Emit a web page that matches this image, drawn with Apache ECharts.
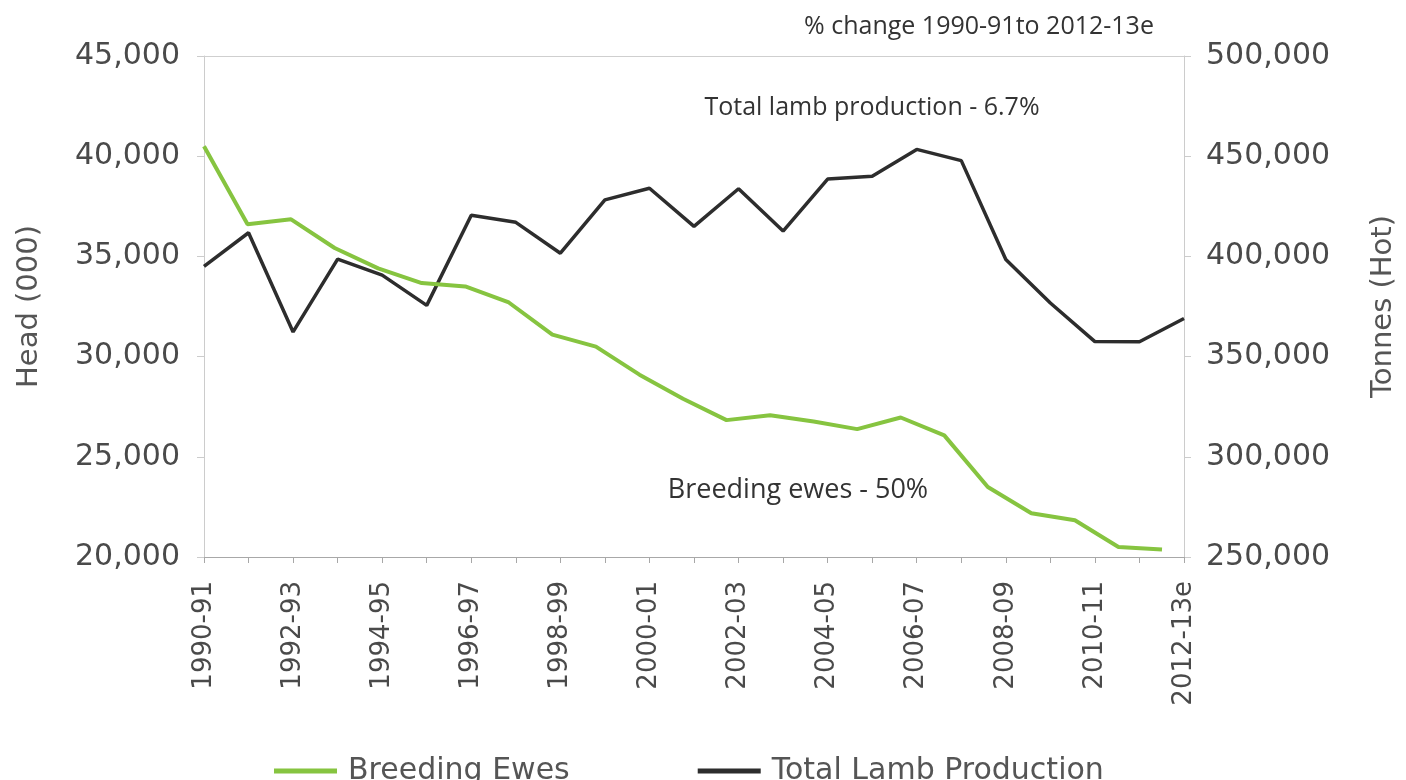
<!DOCTYPE html>
<html>
<head>
<meta charset="utf-8">
<script src="https://cdn.jsdelivr.net/npm/echarts@6/dist/echarts.min.js"></script>
<style>
html,body{margin:0;padding:0;background:#fff;}
#chart{width:1406px;height:780px;}
</style>
</head>
<body>
<div id="chart"></div>
<script>
var categories = ['1990-91','1991-92','1992-93','1993-94','1994-95','1995-96','1996-97','1997-98','1998-99','1999-00','2000-01','2001-02','2002-03','2003-04','2004-05','2005-06','2006-07','2007-08','2008-09','2009-10','2010-11','2011-12','2012-13e'];
var breedingEwes = [40500, 36600, 36850, 35420, 34400, 33670, 33500, 32700, 31100, 30500, 29100, 27900, 26830, 27070, 26760, 26380, 26960, 26070, 23490, 22180, 21830, 20500, 20370];
var totalLamb = [395000, 411800, 362300, 398600, 390650, 375550, 420500, 417000, 401600, 428200, 434000, 415000, 433750, 412650, 438600, 440000, 453400, 447800, 398500, 376750, 357500, 357400, 369000];
var leftTicks = {min: 20000, max: 45000, interval: 5000};
var rightTicks = {min: 250000, max: 500000, interval: 50000};
var seriesNames = ['Breeding Ewes', 'Total Lamb Production'];
var notes = ['% change 1990-91to 2012-13e', 'Total lamb production - 6.7%', 'Breeding ewes - 50%'];

var chart = echarts.init(document.getElementById('chart'));
var fmt = function (v) { return Number(v).toLocaleString('en-US'); };
var axisFont = 'DejaVu Sans';
var noteFont = '"Open Sans", "Liberation Sans", sans-serif';

chart.setOption({
  animation: false,
  backgroundColor: '#ffffff',
  grid: [
    {left: 204, right: 216, top: 56, bottom: 223},
    {left: 204, right: 244, top: 56, bottom: 223}
  ],
  legend: {
    data: seriesNames,
    left: 269,
    top: 751,
    icon: 'rect',
    itemWidth: 63,
    itemHeight: 5,
    itemGap: 128,
    textStyle: {fontFamily: axisFont, fontSize: 30, color: '#555', padding: [0, 0, 0, 6]}
  },
  xAxis: [
    {
      type: 'category', gridIndex: 0, data: categories, boundaryGap: false,
      axisLine: {lineStyle: {color: '#a8a8a8', width: 1}},
      axisTick: {show: true, interval: 0, length: 6, lineStyle: {color: '#a8a8a8'}},
      axisLabel: {interval: 1, rotate: 90, margin: 24, fontFamily: axisFont, fontSize: 26, color: '#4a4a4a'},
      splitLine: {show: false}
    },
    {
      type: 'category', gridIndex: 1, data: categories, boundaryGap: false, show: false
    },
    {
      type: 'category', gridIndex: 0, data: categories, boundaryGap: false, position: 'top',
      axisLine: {show: true, lineStyle: {color: '#cfcfcf', width: 1}},
      axisTick: {show: false}, axisLabel: {show: false}, splitLine: {show: false}
    }
  ],
  yAxis: [
    {
      type: 'value', gridIndex: 0, position: 'left',
      min: leftTicks.min, max: leftTicks.max, interval: leftTicks.interval,
      name: 'Head (000)', nameLocation: 'middle', nameRotate: 90, nameGap: 160,
      nameTextStyle: {fontFamily: axisFont, fontSize: 29, color: '#555'},
      axisLine: {show: true, lineStyle: {color: '#cccccc'}},
      axisTick: {show: true, length: 7, lineStyle: {color: '#cccccc'}},
      axisLabel: {formatter: fmt, margin: 24, fontFamily: axisFont, fontSize: 30, color: '#4a4a4a'},
      splitLine: {show: false}
    },
    {
      type: 'value', gridIndex: 0, position: 'right',
      min: rightTicks.min, max: rightTicks.max, interval: rightTicks.interval,
      name: 'Tonnes (Hot)', nameLocation: 'middle', nameRotate: 90, nameGap: 185,
      nameTextStyle: {fontFamily: axisFont, fontSize: 29, color: '#555'},
      axisLine: {show: true, lineStyle: {color: '#cccccc'}},
      axisTick: {show: true, length: 7, lineStyle: {color: '#cccccc'}},
      axisLabel: {formatter: fmt, margin: 22, fontFamily: axisFont, fontSize: 30, color: '#4a4a4a'},
      splitLine: {show: false}
    },
    {
      type: 'value', gridIndex: 1, min: leftTicks.min, max: leftTicks.max, interval: leftTicks.interval, show: false
    }
  ],
  series: [
    {
      name: seriesNames[1], type: 'line', xAxisIndex: 0, yAxisIndex: 1,
      data: totalLamb, showSymbol: false, symbol: 'none',
      lineStyle: {color: '#2d2d2d', width: 3.5}, itemStyle: {color: '#2d2d2d'}
    },
    {
      name: seriesNames[0], type: 'line', xAxisIndex: 1, yAxisIndex: 2,
      data: breedingEwes, showSymbol: false, symbol: 'none',
      lineStyle: {color: '#86c440', width: 4}, itemStyle: {color: '#86c440'}
    }
  ],
  graphic: [
    {type: 'text', x: 979, y: 27, style: {text: notes[0], font: '25px ' + noteFont, fill: '#333', align: 'center', verticalAlign: 'middle', textAlign: 'center', textVerticalAlign: 'middle'}},
    {type: 'text', x: 872, y: 108, style: {text: notes[1], font: '25px ' + noteFont, fill: '#333', align: 'center', verticalAlign: 'middle', textAlign: 'center', textVerticalAlign: 'middle'}},
    {type: 'text', x: 798, y: 490, style: {text: notes[2], font: '27px ' + noteFont, fill: '#333', align: 'center', verticalAlign: 'middle', textAlign: 'center', textVerticalAlign: 'middle'}}
  ]
});
</script>
</body>
</html>
